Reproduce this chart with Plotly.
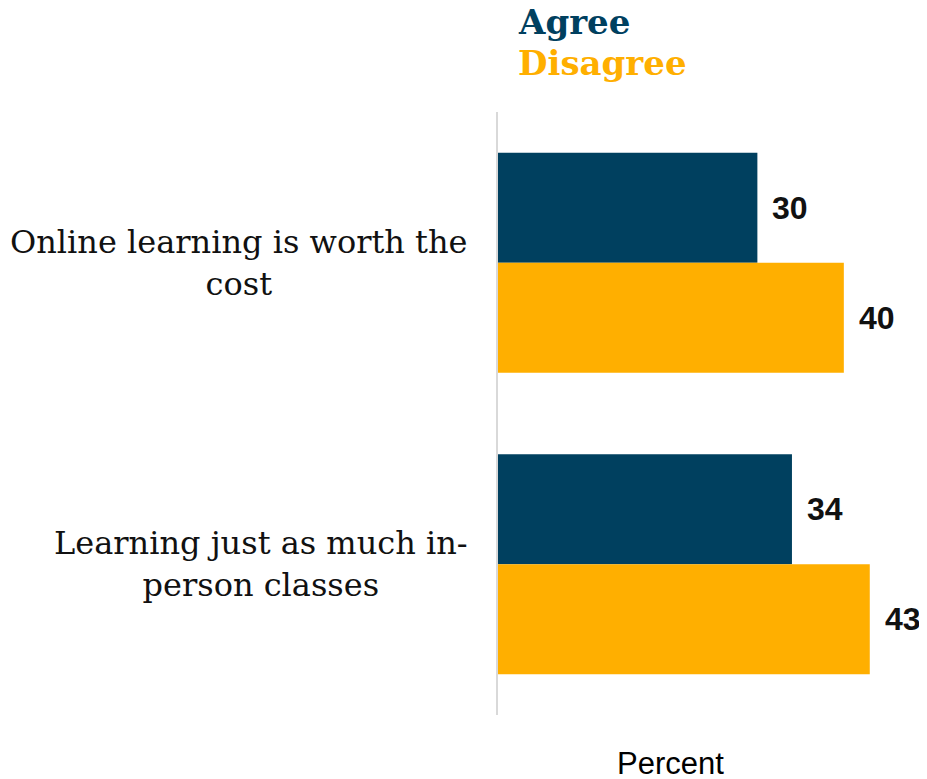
import plotly.graph_objects as go

categories = ["Online learning is worth the<br>cost", "Learning just as much in-<br>person classes"]
series_names = ["Agree", "Disagree"]
agree = [30, 34]
disagree = [40, 43]
colors = ["#00405F", "#FFAF00"]

values = [agree, disagree]

fig = go.Figure()
for name, vals, col in zip(series_names, values, colors):
    fig.add_trace(go.Bar(
        y=categories, x=vals, name=name, orientation="h",
        marker=dict(color=col, line=dict(width=0)),
        hoverinfo="x+name",
    ))

annotations = []
# value labels
n = len(series_names)
for i, (name, vals) in enumerate(zip(series_names, values)):
    for j, (cat, v) in enumerate(zip(categories, vals)):
        annotations.append(dict(
            x=v, y=j + (i - (n - 1) / 2) * 0.365, xref="x", yref="y",
            text=f"<b>{v}</b>", showarrow=False, xanchor="left", yanchor="middle",
            xshift=13,
            font=dict(family="Liberation Sans Narrow, Liberation Sans, Arial, sans-serif",
                      size=32, color="#111111"),
        ))

# category labels
for j, cat in enumerate(categories):
    annotations.append(dict(
        x=0, y=j, xref="paper", yref="y", text=cat, showarrow=False,
        xanchor="right", yanchor="middle", align="center", xshift=-28,
        font=dict(family="DejaVu Serif, Georgia, serif", size=32, color="#111111"),
    ))

# legend as coloured text
for i, (name, col) in enumerate(zip(series_names, colors)):
    annotations.append(dict(
        x=18 / 415, y=1 + (90 - i * 41) / 603, xref="paper", yref="paper",
        text=f"<b>{name}</b>", showarrow=False, xanchor="left", yanchor="middle",
        font=dict(family="DejaVu Serif, Georgia, serif", size=34, color=col),
    ))

# axis title
annotations.append(dict(
    x=20, y=0, xref="x", yref="paper", text="Percent", showarrow=False,
    xanchor="center", yanchor="middle", yshift=-48,
    font=dict(family="Liberation Sans, Arial, sans-serif", size=31, color="#000000"),
))

fig.update_layout(
    width=927, height=779,
    margin=dict(l=490, r=22, t=104, b=72),
    plot_bgcolor="white", paper_bgcolor="white",
    barmode="group", bargap=0.27, bargroupgap=0,
    showlegend=False,
    annotations=annotations,
    xaxis=dict(range=[0, 48], showgrid=False, zeroline=False, showticklabels=False,
               showline=False, ticks=""),
    yaxis=dict(autorange="reversed", showticklabels=False, showgrid=False,
               showline=True, linecolor="#D9D9D9", linewidth=2, ticks="", zeroline=False),
)

fig.write_html("out.html")
